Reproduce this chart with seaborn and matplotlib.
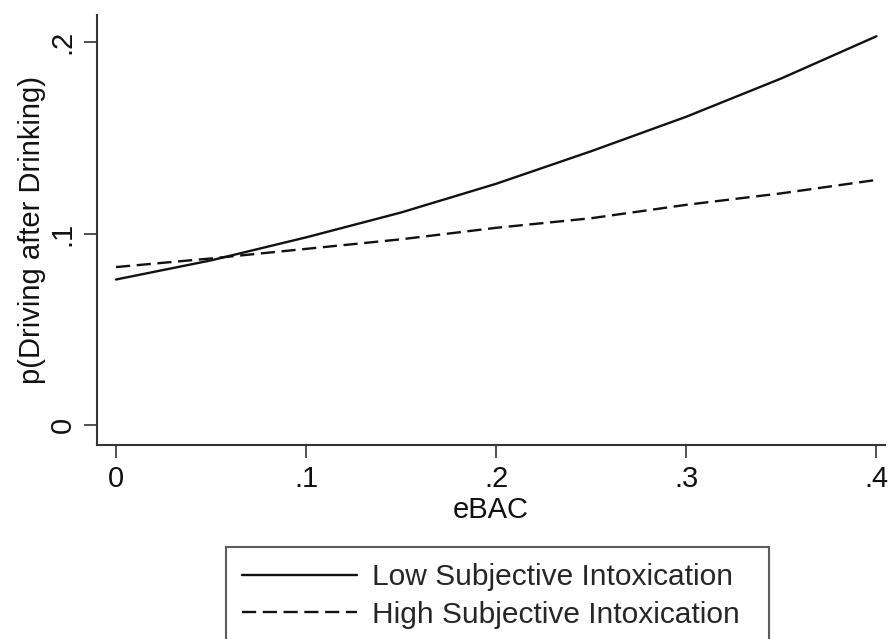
import numpy as np
import pandas as pd
import seaborn as sns
import matplotlib.pyplot as plt

# values
ebac = [0.0, 0.05, 0.10, 0.15, 0.20, 0.25, 0.30, 0.35, 0.40]
low_si = [0.076, 0.086, 0.098, 0.111, 0.126, 0.143, 0.161, 0.181, 0.203]
high_si = [0.0825, 0.087, 0.092, 0.097, 0.103, 0.108, 0.115, 0.121, 0.128]

x_ticks = [0, 0.1, 0.2, 0.3, 0.4]
x_labels = ["0", ".1", ".2", ".3", ".4"]
y_ticks = [0, 0.1, 0.2]
y_labels = ["0", ".1", ".2"]

df = pd.DataFrame({
    "eBAC": ebac * 2,
    "p": low_si + high_si,
    "group": ["Low Subjective Intoxication"] * len(ebac) + ["High Subjective Intoxication"] * len(ebac),
})

sns.set_theme(style="white")
plt.rcParams["font.family"] = ["Liberation Sans", "DejaVu Sans"]

fig = plt.figure(figsize=(8.89, 6.39), dpi=100)
ax = fig.add_axes([97 / 889, 1 - 445 / 639, 788 / 889, 430 / 639])

sns.lineplot(data=df, x="eBAC", y="p", style="group",
             dashes={"Low Subjective Intoxication": "",
                     "High Subjective Intoxication": (6, 2.8)},
             color="#111111", linewidth=1.7, ax=ax)

ax.set_xlim(-0.0100, 0.4045)
ax.set_ylim(-0.0104, 0.2141)

ax.set_xticks(x_ticks)
ax.set_xticklabels(x_labels)
ax.set_yticks(y_ticks)
ax.set_yticklabels(y_labels, rotation=90, va="center")

for s in ["top", "right"]:
    ax.spines[s].set_visible(False)
for s in ["left", "bottom"]:
    ax.spines[s].set_color("#333333")
    ax.spines[s].set_linewidth(1.5)

ax.tick_params(axis="both", which="major", direction="out", length=9.5, width=1.2,
               color="#333333", labelsize=21, labelcolor="#111111", pad=5,
               left=True, bottom=True)

ax.set_xlabel("eBAC", fontsize=21, color="#111111", va="center")
ax.set_ylabel("p(Driving after Drinking)", fontsize=21, color="#111111", va="center")
ax.xaxis.set_label_coords(0.5, -0.151)
ax.yaxis.set_label_coords(-0.082, 0.5)

handles, labels = ax.get_legend_handles_labels()
leg = fig.legend(handles, labels, loc="upper left",
                 bbox_to_anchor=(226 / 889, 1 - 547 / 639, 543 / 889, 0.0),
                 mode="expand", borderaxespad=0, fontsize=21.5,
                 handlelength=3.85, handletextpad=0.5, borderpad=0.54,
                 labelspacing=0.32, frameon=True, fancybox=False)
leg.get_frame().set_edgecolor("#333333")
leg.get_frame().set_linewidth(1.5)
ax.get_legend().remove()

fig.savefig("out.png", dpi=100)
